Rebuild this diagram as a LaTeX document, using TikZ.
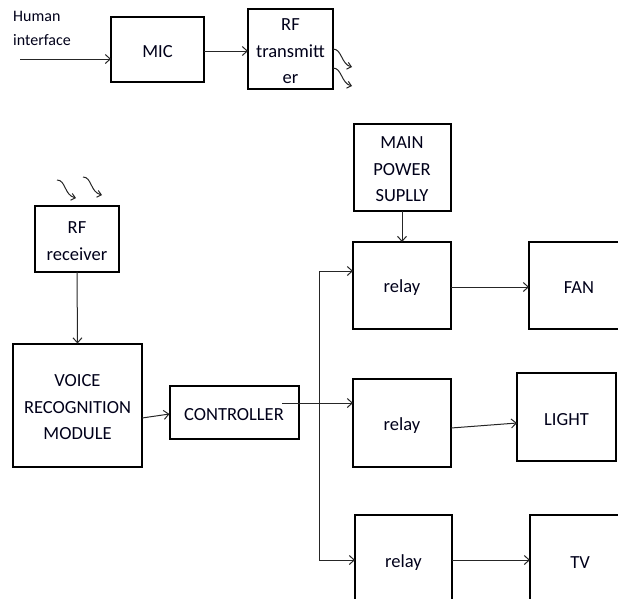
\documentclass[tikz,border=0pt]{standalone}
\usepackage{fontspec}
\setmainfont{Carlito}
\usetikzlibrary{arrows.meta,calc}
\begin{document}
\begin{tikzpicture}[x=1pt,y=-1pt,
  box/.style={draw=black,line width=2pt,inner sep=0pt,outer sep=0pt,
    label={[txt]center:#1}},
  txt/.style={align=center,inner sep=0pt,yshift=-2.5pt,
    font=\fontsize{18.5}{26.5}\selectfont,text=black!90!blue},
  arr/.style={draw=black!85,line width=1pt,-{Straight Barb[length=5pt,width=9pt]}},
  ln/.style={draw=black!85,line width=1pt},
  wave/.style={draw=black!85,line width=1pt,-{Straight Barb[length=4pt,width=7pt]}}]
\useasboundingbox (0,0) rectangle (618,598);
\clip (0,0) rectangle (618,598);
% nodes
\node[anchor=north west,align=left,inner sep=0pt,font=\fontsize{16}{24}\selectfont,text=black!90!blue] (hi) at (13,11) {Human\\interface};
\node[box={MIC},minimum width=93pt,minimum height=65pt] (mic) at (157.5,49.5) {};
\node[box={RF\\transmitt\\er},minimum width=85pt,minimum height=80pt] (rftx) at (290.5,49) {};
\node[box={RF\\receiver},minimum width=84pt,minimum height=66pt] (rfrx) at (77,238.5) {};
\node[box={VOICE\\RECOGNITION\\MODULE},minimum width=129pt,minimum height=123pt] (vrm) at (77.5,405) {};
\node[box={CONTROLLER},minimum width=129pt,minimum height=53pt] (ctrl) at (234,412) {};
\node[box={MAIN\\POWER\\SUPLLY},minimum width=97pt,minimum height=87pt] (mps) at (402,167) {};
\node[box={relay},minimum width=98pt,minimum height=87pt] (r1) at (402,285.5) {};
\node[box={relay},minimum width=98pt,minimum height=88pt] (r2) at (402,423) {};
\node[box={relay},minimum width=97pt,minimum height=90pt] (r3) at (403.5,560) {};
\node[box={FAN},minimum width=100pt,minimum height=87pt] (fan) at (579,285.5) {};
\node[box={LIGHT},minimum width=99pt,minimum height=88pt] (light) at (566.5,417) {};
\node[box={TV},minimum width=100pt,minimum height=90pt] (tv) at (580,560) {};
% coordinates
\coordinate (hin) at (20,59);
\coordinate (cin) at (282,403);
\coordinate (bus1) at (319,271);
\coordinate (bus3) at (319,560);
% connectors
\draw[arr] (hin) -- (hin -| mic.west);
\draw[arr] ([yshift=-1.5pt]mic.east) -- ([yshift=-2pt]rftx.west);
\draw[arr] (rfrx.south) -- (vrm.north);
\draw[arr] ([yshift=-13pt]vrm.east) -- ([yshift=-2pt]ctrl.west);
\draw[arr] (cin) -- (cin -| r2.west);
\draw[ln] (bus1) -- (bus3);
\draw[arr] (bus1) -- (bus1 -| r1.west);
\draw[arr] (bus3) -- (r3.west);
\draw[arr] (mps.south) -- (mps.south |- r1.north);
\draw[arr] ([yshift=-1.5pt]r1.east) -- ([yshift=-1.5pt]fan.west);
\draw[arr] ([yshift=-5pt]r2.east) -- ([yshift=-6pt]light.west);
\draw[arr] (r3.east) -- (tv.west);
% wireless waves
\draw[wave] (333,49) .. controls (342,49) and (341,64) .. (352,67);
\draw[wave] (333,68) .. controls (342,68) and (341,83) .. (352,86);
\draw[wave] (57,180) .. controls (66,180) and (64,195) .. (76,198);
\draw[wave] (83,177) .. controls (92,177) and (90,192) .. (102,195);
\end{tikzpicture}
\end{document}
